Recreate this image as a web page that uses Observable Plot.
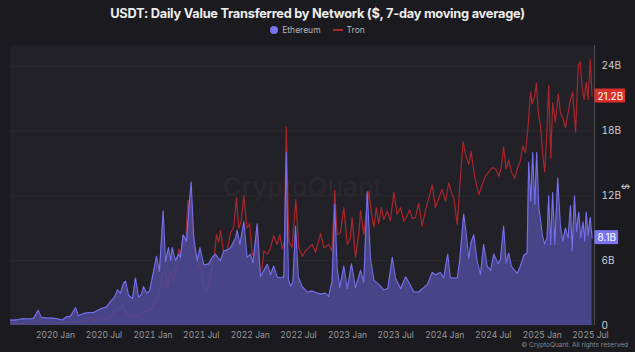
<!DOCTYPE html>
<html><head><meta charset="utf-8">
<script src="https://cdn.jsdelivr.net/npm/d3@7"></script>
<script src="https://cdn.jsdelivr.net/npm/@observablehq/plot@0.6"></script>
<style>
html,body{margin:0;padding:0;background:#1b1a1f;}
body{width:635px;height:352px;overflow:hidden;font-family:Inter,"Noto Sans",sans-serif;position:relative;}
#title{position:absolute;top:6px;left:0;width:635px;text-align:center;color:#ececec;font-weight:700;font-size:12.8px;letter-spacing:-0.25px;}
#legend{position:absolute;top:25px;left:0;width:635px;display:flex;justify-content:center;align-items:center;gap:4px;font-size:8.5px;color:#b8b8b8;}
#legend .dot{width:8px;height:8px;border-radius:50%;background:#7b74f2;display:inline-block;}
#legend .ln{width:10px;height:1.5px;background:#a82a30;display:inline-block;margin-left:8px;}
#chart{position:absolute;top:44px;left:0;}
#copy{position:absolute;right:7px;top:341px;font-size:6.5px;color:#8a8a8a;}
</style></head>
<body>
<div id="title">USDT: Daily Value Transferred by Network ($, 7-day moving average)</div>
<div id="legend"><span class="dot"></span><span>Ethereum</span><span class="ln"></span><span>Tron</span></div>
<div id="chart"></div>
<div id="copy">© CryptoQuant. All rights reserved</div>
<script>
const ethDates = ["2019-07-16","2019-07-31","2019-08-15","2019-09-03","2019-09-22","2019-10-10","2019-10-28","2019-11-09","2019-11-28","2019-12-17","2020-01-05","2020-01-26","2020-02-11","2020-02-26","2020-03-16","2020-03-27","2020-04-15","2020-05-04","2020-05-23","2020-06-07","2020-06-24","2020-07-10","2020-07-25","2020-08-09","2020-08-21","2020-09-01","2020-09-12","2020-09-20","2020-10-01","2020-10-16","2020-10-27","2020-11-08","2020-11-19","2020-11-26","2020-12-08","2020-12-19","2021-01-03","2021-01-14","2021-01-25","2021-02-08","2021-02-17","2021-02-28","2021-03-08","2021-03-14","2021-03-26","2021-04-07","2021-04-14","2021-04-24","2021-05-07","2021-05-14","2021-05-24","2021-06-03","2021-06-16","2021-06-26","2021-07-11","2021-07-29","2021-08-11","2021-08-23","2021-09-11","2021-09-24","2021-10-08","2021-10-19","2021-11-07","2021-11-13","2021-11-23","2021-12-08","2021-12-20","2022-01-02","2022-01-11","2022-01-27","2022-02-08","2022-02-21","2022-03-06","2022-03-18","2022-03-30","2022-04-12","2022-04-24","2022-05-07","2022-05-16","2022-05-24","2022-06-01","2022-06-10","2022-06-20","2022-06-30","2022-07-15","2022-08-03","2022-08-21","2022-09-09","2022-09-22","2022-10-10","2022-10-22","2022-11-04","2022-11-14","2022-11-23","2022-12-03","2022-12-18","2022-12-31","2023-01-16","2023-01-31","2023-02-19","2023-03-03","2023-03-16","2023-03-28","2023-04-10","2023-04-28","2023-05-17","2023-06-01","2023-06-18","2023-06-30","2023-07-19","2023-08-07","2023-08-19","2023-09-07","2023-09-25","2023-10-14","2023-10-28","2023-11-15","2023-11-27","2023-12-16","2023-12-28","2024-01-12","2024-01-22","2024-02-04","2024-02-17","2024-02-26","2024-03-12","2024-03-22","2024-03-31","2024-04-09","2024-04-19","2024-05-01","2024-05-14","2024-05-26","2024-06-08","2024-06-21","2024-07-03","2024-07-09","2024-07-19","2024-07-28","2024-08-09","2024-08-18","2024-08-28","2024-09-07","2024-09-16","2024-09-29","2024-10-11","2024-10-24","2024-11-05","2024-11-11","2024-11-19","2024-11-26","2024-12-04","2024-12-11","2024-12-19","2024-12-25","2025-01-01","2025-01-10","2025-01-19","2025-01-25","2025-02-01","2025-02-09","2025-02-17","2025-02-28","2025-03-10","2025-03-19","2025-03-29","2025-04-08","2025-04-17","2025-04-23","2025-05-02","2025-05-09","2025-05-18","2025-05-25","2025-06-03","2025-06-09","2025-06-15","2025-06-22","2025-06-30","2025-07-07"];
const ethValues = [0.5,0.5,0.55,0.65,0.6,0.65,1.4,0.75,0.7,0.7,0.65,0.5,0.8,0.85,1.65,0.9,1.1,1.2,1.2,1.4,1.6,1.7,2.2,2.6,3.3,3.0,3.9,4.1,2.8,2.5,4.4,2.6,2.9,3.6,3.0,3.2,5.0,6.4,5.0,10.6,5.9,7.2,6.0,7.2,6.0,6.6,6.3,8.4,7.8,10.3,13.3,8.1,6.0,7.2,5.6,5.7,6.3,6.6,6.0,6.9,7.0,7.2,8.1,8.8,7.5,9.6,6.3,6.6,5.8,9.4,4.5,5.1,5.65,4.7,5.5,4.5,4.4,4.5,16.0,4.3,3.65,4.0,9.2,4.5,3.6,3.1,3.2,3.0,2.9,3.0,2.7,4.1,11.2,5.3,3.5,5.5,3.4,5.7,3.5,5.1,4.0,12.4,6.2,4.2,3.8,3.3,3.4,6.3,4.4,3.4,4.5,4.0,3.1,3.1,3.5,3.8,4.9,4.7,4.9,4.4,6.6,4.4,4.4,4.4,6.0,10.3,8.4,6.2,7.7,8.4,6.0,4.7,7.5,5.5,5.1,6.6,6.3,5.7,6.1,9.2,5.8,6.7,5.5,5.2,4.8,5.5,6.5,6.7,15.1,11.5,16.0,11.2,16.0,10.9,9.9,8.4,7.5,8.1,12.0,7.5,12.3,7.5,13.65,9.2,7.8,9.0,8.1,11.1,6.9,12.0,8.7,10.5,8.1,9.6,7.8,10.5,8.3,10.0,8.1];

const tronDates = ["2019-07-16","2019-08-23","2019-09-29","2019-10-28","2019-11-13","2019-12-13","2020-01-20","2020-02-26","2020-04-04","2020-04-26","2020-05-11","2020-05-26","2020-06-18","2020-07-10","2020-07-25","2020-08-06","2020-08-21","2020-09-01","2020-09-08","2020-09-20","2020-10-01","2020-10-20","2020-11-08","2020-11-26","2020-12-15","2020-12-30","2021-01-10","2021-01-22","2021-01-29","2021-02-04","2021-02-17","2021-02-23","2021-03-08","2021-03-20","2021-03-30","2021-04-08","2021-04-14","2021-04-24","2021-05-03","2021-05-12","2021-05-18","2021-05-24","2021-06-03","2021-06-16","2021-06-28","2021-07-11","2021-07-23","2021-08-05","2021-08-17","2021-08-27","2021-09-05","2021-09-11","2021-09-24","2021-10-06","2021-10-19","2021-10-31","2021-11-10","2021-11-19","2021-11-28","2021-12-08","2021-12-20","2021-12-30","2022-01-08","2022-01-17","2022-01-27","2022-02-06","2022-02-15","2022-02-21","2022-03-06","2022-03-18","2022-03-30","2022-04-12","2022-04-22","2022-05-01","2022-05-09","2022-05-16","2022-05-26","2022-06-07","2022-06-21","2022-07-02","2022-07-15","2022-07-27","2022-08-09","2022-08-21","2022-09-03","2022-09-22","2022-10-04","2022-10-23","2022-11-04","2022-11-14","2022-11-23","2022-12-06","2022-12-18","2022-12-31","2023-01-12","2023-01-18","2023-01-31","2023-02-12","2023-02-19","2023-03-03","2023-03-12","2023-03-22","2023-04-01","2023-04-10","2023-04-19","2023-04-28","2023-05-08","2023-05-17","2023-05-30","2023-06-11","2023-06-24","2023-07-06","2023-07-19","2023-07-31","2023-08-13","2023-08-23","2023-09-01","2023-09-13","2023-09-25","2023-10-08","2023-10-21","2023-11-02","2023-11-15","2023-11-27","2023-12-10","2023-12-22","2024-01-04","2024-01-16","2024-01-29","2024-02-04","2024-02-17","2024-02-26","2024-03-10","2024-03-19","2024-03-31","2024-04-09","2024-04-17","2024-04-25","2024-05-08","2024-05-20","2024-06-02","2024-06-14","2024-06-27","2024-07-09","2024-07-22","2024-08-01","2024-08-09","2024-08-18","2024-08-28","2024-09-07","2024-09-20","2024-09-29","2024-10-11","2024-10-20","2024-10-30","2024-11-08","2024-11-18","2024-11-24","2024-12-03","2024-12-10","2024-12-17","2024-12-25","2025-01-03","2025-01-10","2025-01-19","2025-01-25","2025-02-02","2025-02-09","2025-02-19","2025-03-02","2025-03-10","2025-03-20","2025-03-29","2025-04-08","2025-04-17","2025-04-25","2025-05-06","2025-05-16","2025-05-23","2025-05-31","2025-06-07","2025-06-15","2025-06-22","2025-06-30","2025-07-07"];
const tronValues = [0.15,0.2,0.25,0.5,0.25,0.2,0.25,0.3,0.35,0.5,0.75,0.45,0.5,0.6,0.7,1.3,1.6,1.5,1.9,1.3,0.9,0.8,0.85,1.3,1.4,1.6,2.4,3.0,3.4,4.7,5.0,3.5,5.0,4.1,5.5,7.1,6.3,8.3,7.5,11.6,10.2,11.5,7.2,6.0,5.4,3.5,3.2,4.7,6.0,8.4,7.7,8.8,6.6,6.9,8.6,9.1,11.8,9.0,9.6,12.0,9.0,9.4,6.6,6.3,9.2,5.0,5.4,6.9,6.6,7.2,8.3,7.5,8.4,7.1,7.8,18.4,7.8,7.2,11.65,7.2,6.4,6.9,7.2,7.5,6.8,8.5,7.2,7.5,6.9,12.5,8.4,8.6,10.9,7.5,8.1,10.0,6.3,8.4,10.6,8.4,10.4,12.4,10.3,9.1,10.9,9.4,10.9,9.8,10.6,9.7,12.3,10.3,10.9,9.6,10.2,10.7,9.9,10.0,11.3,9.2,10.7,11.8,13.0,10.9,11.8,12.6,11.5,13.2,12.1,11.8,9.3,12.8,17.0,15.8,14.9,16.1,14.6,13.4,12.1,13.0,13.8,14.2,14.6,14.5,13.8,14.8,16.5,14.5,15.3,14.2,13.6,14.5,15.3,16.6,16.0,18.2,21.6,20.5,21.2,22.4,19.7,18.5,15.8,14.2,18.2,22.2,15.5,20.6,18.8,21.4,19.7,19.1,18.3,19.7,20.9,21.6,17.9,24.05,24.4,21.9,20.9,22.5,20.9,24.6,21.2];

const yTicks = [0, 6, 12, 18, 24];
const xTickDates = ["2020-01-01","2020-07-01","2021-01-01","2021-07-01","2022-01-01","2022-07-01","2023-01-01","2023-07-01","2024-01-01","2024-07-01","2025-01-01","2025-07-01"];
const seriesNames = ["Ethereum", "Tron"];
const lastLabels = ["8.1B", "21.2B"];

const eth = ethDates.map((d, i) => ({date: new Date(d), v: ethValues[i]}));
const tron = tronDates.map((d, i) => ({date: new Date(d), v: tronValues[i]}));
const xStart = new Date("2019-07-16"), xEnd = new Date("2025-07-16");
const lastPts = [
  {date: xEnd, v: ethValues[ethValues.length - 1], label: lastLabels[0], bg: "#7b74f2"},
  {date: xEnd, v: tronValues[tronValues.length - 1], label: lastLabels[1], bg: "#d9302b"}
];
const mon = ["Jan","Feb","Mar","Apr","May","Jun","Jul","Aug","Sep","Oct","Nov","Dec"];

const chart = Plot.plot({
  width: 635, height: 308,
  marginLeft: 10, marginRight: 41, marginTop: 1, marginBottom: 27,
  style: {background: "transparent", color: "#a0a0a0", fontFamily: "Inter, 'Noto Sans', sans-serif", fontSize: "9px", overflow: "visible"},
  x: {type: "utc", domain: [xStart, xEnd]},
  y: {domain: [0, 25.9]},
  marks: [
    Plot.frame({fill: "#222127", stroke: "none"}),
    Plot.ruleY(yTicks.slice(1), {stroke: "#2b2a31", strokeWidth: 1}),
    Plot.text(["CryptoQuant"], {frameAnchor: "middle", dy: 2, fontSize: 26, fontWeight: 500, fill: "#29282e"}),
    Plot.lineY(tron, {x: "date", y: "v", stroke: "#a8262c", strokeWidth: 1.2}),
    Plot.areaY(eth, {x: "date", y: "v", fill: "#4f4b98", fillOpacity: 0.86}),
    Plot.lineY(eth, {x: "date", y: "v", stroke: "#7770ec", strokeWidth: 1.1}),
    Plot.ruleX([xEnd], {stroke: "#4a4950", strokeWidth: 1}),
    Plot.axisY({anchor: "right", ticks: yTicks, tickFormat: d => d === 0 ? "0" : d + "B", tickSize: 0, tickPadding: 7, fill: "#d0d0d0", fontSize: 10, label: null}),
    Plot.axisX({ticks: xTickDates.map(d => new Date(d)), tickFormat: d => `${d.getUTCFullYear()} ${mon[d.getUTCMonth()]}`, tickSize: 0, tickPadding: 6, fill: "#9a9a9a", fontSize: 8.5, label: null}),
    Plot.text(lastPts, {x: "date", y: "v", text: "label", textAnchor: "start", dx: 3, fill: "white", fontSize: 10, className: "vlabel"})
  ]
});
document.getElementById("chart").appendChild(chart);

// boxes behind last-value labels
d3.select(chart).selectAll(".vlabel text").each(function(d, i) {
  const bb = this.getBBox();
  const p = lastPts[i];
  const tr = this.getAttribute("transform");
  const r = d3.select(this.parentNode).insert("rect", () => this)
    .attr("x", bb.x - 3).attr("y", bb.y - 1).attr("width", bb.width + 5).attr("height", bb.height + 2)
    .attr("fill", p.bg);
  if (tr) r.attr("transform", tr);
});

// "$" axis title
const ys = chart.scale("y");
d3.select(chart).append("text")
  .attr("transform", `translate(622, ${ys.apply(12.8)}) rotate(90)`)
  .attr("text-anchor", "middle").attr("fill", "#d0d0d0").attr("font-size", 9).text("$");
</script>
</body></html>
